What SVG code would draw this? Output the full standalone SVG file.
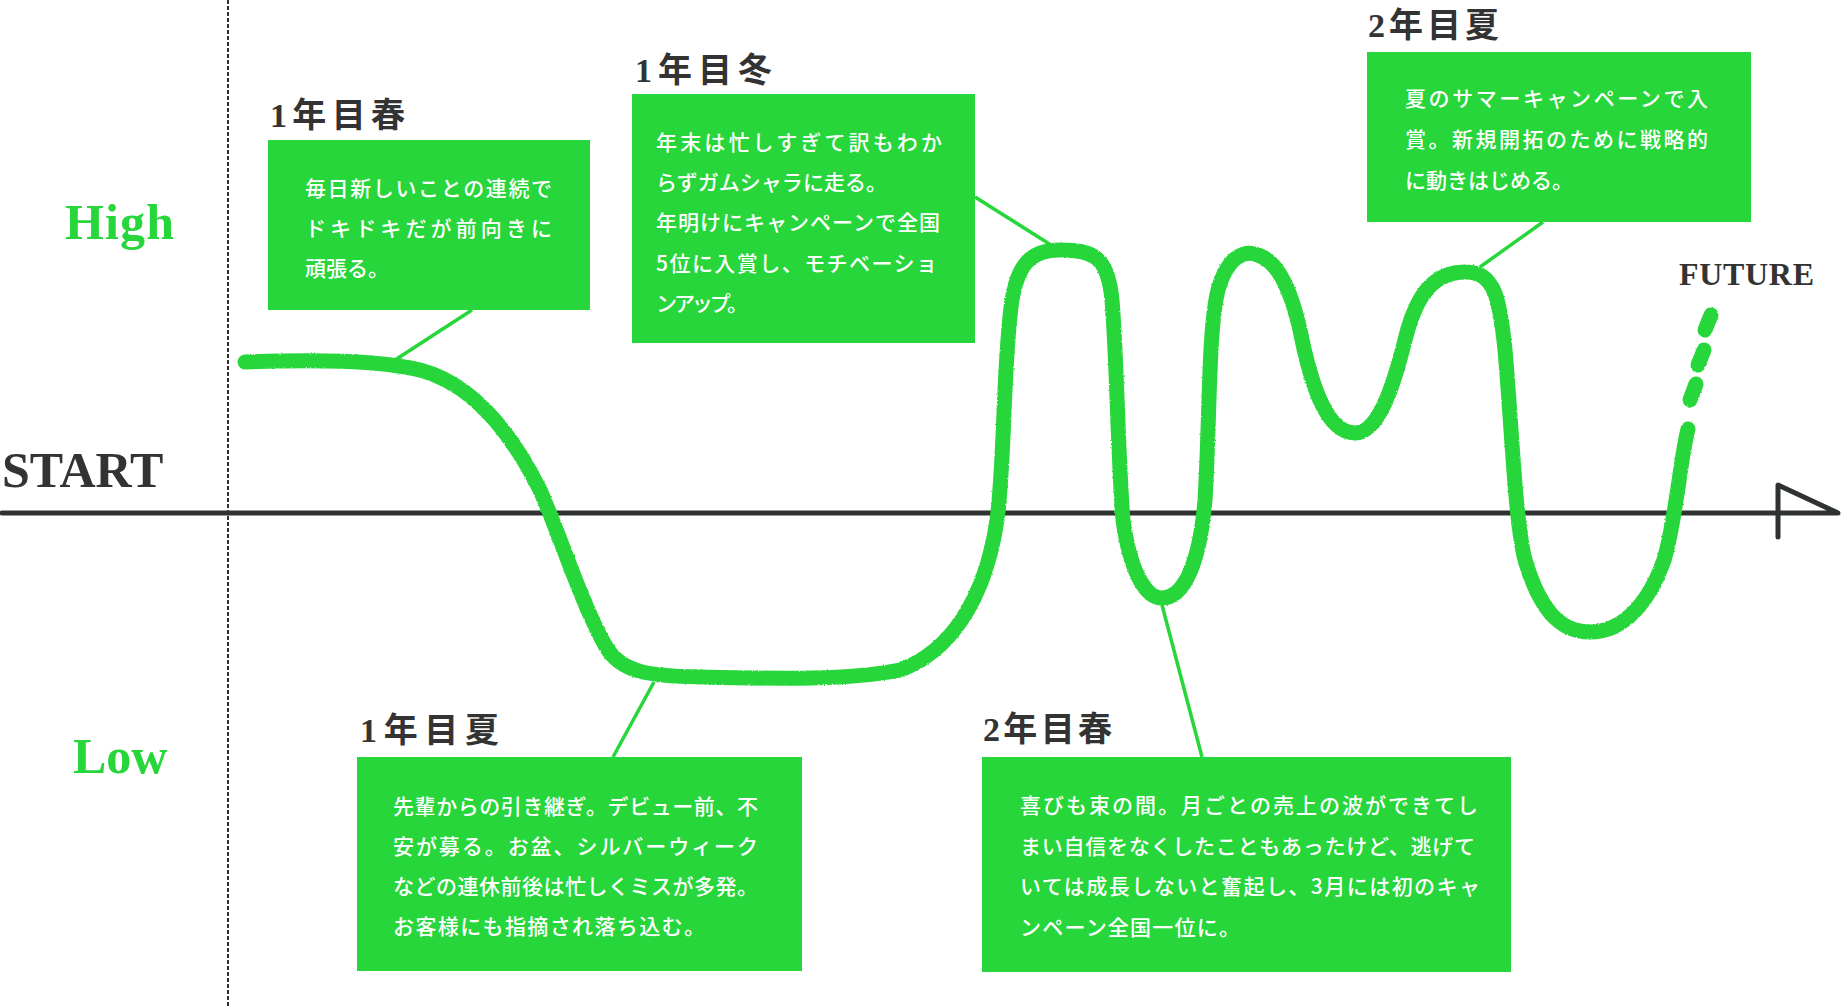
<svg xmlns="http://www.w3.org/2000/svg" width="1841" height="1008" viewBox="0 0 1841 1008">
<style>
.box{fill:#26d63a}
.body{font-family:"Noto Sans CJK JP",sans-serif;font-size:21px;font-weight:500;fill:#ffffff}
.title{font-family:"Liberation Serif","Noto Sans CJK JP",serif;font-size:34px;font-weight:700;fill:#333333}
.axl{font-family:"Liberation Serif",serif;font-weight:700;font-size:50px}
.green{fill:#26d63a}
.dark{fill:#333333}
.lead{stroke:#26d63a;stroke-width:3.5;fill:none}
.curve{stroke:#26d63a;stroke-width:15;fill:none;stroke-linecap:round;stroke-linejoin:round}
.axis{stroke:#2e3230;stroke-width:5;fill:none;stroke-linecap:round;stroke-linejoin:round}
</style>
<defs>
<filter id="rough" x="-5%" y="-5%" width="110%" height="110%">
<feTurbulence type="fractalNoise" baseFrequency="0.7" numOctaves="1" seed="3" result="n"/>
<feDisplacementMap in="SourceGraphic" in2="n" scale="2.5" xChannelSelector="R" yChannelSelector="G"/>
</filter>
</defs>
<rect width="1841" height="1008" fill="#ffffff"/>
<g id="frame">
<line x1="228" y1="0" x2="228" y2="1008" stroke="#333333" stroke-width="2" stroke-dasharray="4 2"/>
<text class="axl green" x="65" y="239" textLength="109">High</text>
<text class="axl dark" x="2" y="487">START</text>
<text class="axl green" x="73" y="773">Low</text>
<text class="axl dark" x="1679" y="285" style="font-size:32px" textLength="135">FUTURE</text>
<path class="axis" d="M2,513 H1838 L1778,485 V537"/>
</g>
<g id="curve" filter="url(#rough)">
<path class="curve" d="M245,362 C320,359 380,360 420,370 C470,383 510,430 540,490 C560,535 580,600 605,645 C620,673 650,676 700,677 C780,679 850,680 900,670 C950,652 985,600 997,520 C1005,460 1003,360 1012,300 C1018,265 1030,250 1060,250 C1095,250 1108,258 1112,300 C1117,360 1118,460 1123,520 C1130,570 1145,598 1162,598 C1185,598 1200,560 1205,500 C1210,420 1208,330 1218,290 C1228,255 1245,250 1258,255 C1280,262 1292,295 1300,330 C1310,380 1325,433 1355,433 C1380,433 1395,380 1405,340 C1415,300 1430,272 1466,272 C1495,272 1500,300 1505,350 C1512,430 1515,520 1525,560 C1540,610 1560,632 1590,632 C1625,632 1650,600 1664,560 C1676,520 1680,460 1688,429"/>
<path class="curve" d="M1711,315 L1705,330 M1704,350 L1698,365 M1696,384 L1690,400"/>
</g>
<g id="connectors">
<line class="lead" x1="472" y1="310" x2="395" y2="360"/>
<line class="lead" x1="975" y1="197" x2="1051" y2="245"/>
<line class="lead" x1="1543" y1="222" x2="1480" y2="267"/>
<line class="lead" x1="613" y1="757" x2="654" y2="682"/>
<line class="lead" x1="1162" y1="605" x2="1202" y2="757"/>
</g>
<g id="node-y1-spring">
<text class="title" x="270" y="127" textLength="135">1年目春</text>
<rect class="box" x="268" y="140" width="322" height="170"/>
<text class="body" x="305" y="196" textLength="247">毎日新しいことの連続で</text>
<text class="body" x="305" y="236" textLength="247">ドキドキだが前向きに</text>
<text class="body" x="305" y="276" textLength="84">頑張る。</text>
</g>
<g id="node-y1-winter">
<text class="title" x="635" y="82" textLength="137">1年目冬</text>
<rect class="box" x="632" y="94" width="343" height="249"/>
<text class="body" x="656" y="150" textLength="286">年末は忙しすぎて訳もわか</text>
<text class="body" x="656" y="190" textLength="231">らずガムシャラに走る。</text>
<text class="body" x="656" y="230" textLength="284">年明けにキャンペーンで全国</text>
<text class="body" x="656" y="271" textLength="281">5位に入賞し、モチベーショ</text>
<text class="body" x="656" y="311" textLength="92">ンアップ。</text>
</g>
<g id="node-y2-summer">
<text class="title" x="1368" y="37" textLength="131">2年目夏</text>
<rect class="box" x="1367" y="52" width="384" height="170"/>
<text class="body" x="1405" y="106" textLength="303">夏のサマーキャンペーンで入</text>
<text class="body" x="1405" y="147" textLength="303">賞。新規開拓のために戦略的</text>
<text class="body" x="1405" y="188" textLength="168">に動きはじめる。</text>
</g>
<g id="node-y1-summer">
<text class="title" x="360" y="742" textLength="139">1年目夏</text>
<rect class="box" x="357" y="757" width="445" height="214"/>
<text class="body" x="393" y="814" textLength="365">先輩からの引き継ぎ。デビュー前、不</text>
<text class="body" x="393" y="854" textLength="365">安が募る。お盆、シルバーウィーク</text>
<text class="body" x="393" y="894" textLength="365">などの連休前後は忙しくミスが多発。</text>
<text class="body" x="393" y="934" textLength="312">お客様にも指摘され落ち込む。</text>
</g>
<g id="node-y2-spring">
<text class="title" x="983" y="741" textLength="129">2年目春</text>
<rect class="box" x="982" y="757" width="529" height="215"/>
<text class="body" x="1020" y="813" textLength="458">喜びも束の間。月ごとの売上の波ができてし</text>
<text class="body" x="1020" y="854" textLength="455">まい自信をなくしたこともあったけど、逃げて</text>
<text class="body" x="1020" y="894" textLength="460">いては成長しないと奮起し、3月には初のキャ</text>
<text class="body" x="1020" y="935" textLength="220">ンペーン全国一位に。</text>
</g>
</svg>
